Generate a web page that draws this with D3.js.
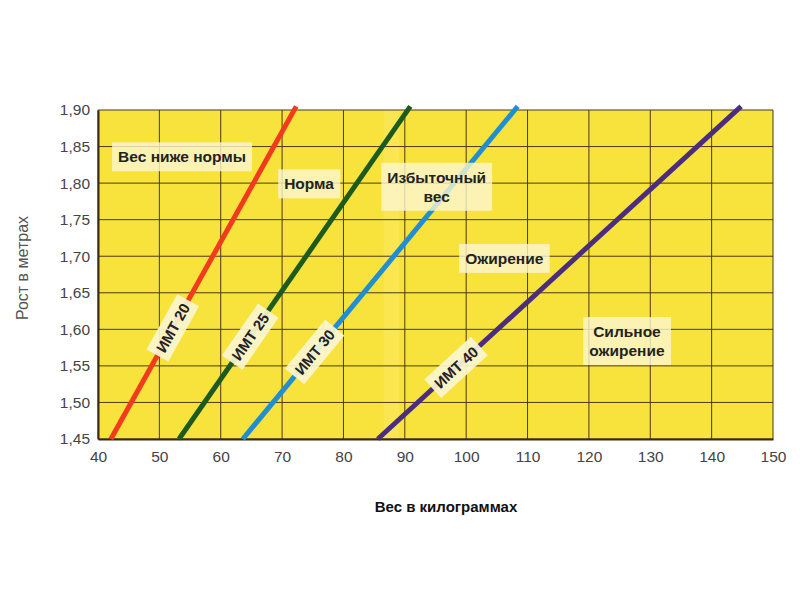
<!DOCTYPE html>
<html><head><meta charset="utf-8">
<script src="https://cdn.jsdelivr.net/npm/d3@7"></script>
<style>body{margin:0;background:#fff}svg{display:block}</style>
</head><body>
<svg id="c" width="800" height="615"></svg>
<script>
const xTicks = [40,50,60,70,80,90,100,110,120,130,140,150];
const yTicks = [1.45,1.50,1.55,1.60,1.65,1.70,1.75,1.80,1.85,1.90];
const lineHeights = [1.45, 1.905];
const bmiNames = ["ИМТ 20","ИМТ 25","ИМТ 30","ИМТ 40"];
const bmi20 = [42.1, 72.3];
const bmi25 = [53.2, 90.9];
const bmi30 = [63.6, 108.4];
const bmi40 = [85.6, 144.8];
const bmiColors = ["#f23a1e","#1d5a1d","#1f8fd2","#4b2d80"];
const bmiLabelHeights = [1.602, 1.59, 1.569, 1.548];
const zoneNames = [["Вес ниже нормы"],["Норма"],["Избыточный","вес"],["Ожирение"],["Сильное","ожирение"]];
const zoneX = [53.7, 74.4, 95.2, 106.2, 126.2];
const zoneY = [1.836, 1.799, 1.795, 1.697, 1.584];

const svg = d3.select("#c");
const x = d3.scaleLinear().domain([40,150]).range([98,773]);
const y = d3.scaleLinear().domain([1.45,1.90]).range([439,110]);
const font = "Liberation Sans, Arial, sans-serif";

// plot background
svg.append("rect").attr("x",x(40)).attr("y",y(1.90))
  .attr("width",x(150)-x(40)).attr("height",y(1.45)-y(1.90)).attr("fill","#f8e23c");
svg.append("rect").attr("x",x(86.5)).attr("y",y(1.90)).attr("width",16).attr("height",y(1.45)-y(1.90))
  .attr("fill","#fbe965").attr("opacity",0.5);

// grid
svg.append("g").selectAll("line").data(xTicks).join("line")
  .attr("x1",d=>x(d)).attr("x2",d=>x(d)).attr("y1",y(1.90)).attr("y2",y(1.45))
  .attr("stroke","#4a3a18").attr("stroke-width",1);
svg.append("g").selectAll("line").data(yTicks).join("line")
  .attr("x1",x(40)).attr("x2",x(150)).attr("y1",d=>y(d)).attr("y2",d=>y(d))
  .attr("stroke","#4a3a18").attr("stroke-width",1);

// axes
const xAxis = svg.append("g").attr("transform",`translate(0,${y(1.45)})`)
  .call(d3.axisBottom(x).tickValues(xTicks).tickSize(0).tickPadding(12).tickFormat(d3.format("d")));
xAxis.select(".domain").attr("stroke","#3a2a10").attr("stroke-width",2);
xAxis.selectAll("text").attr("font-family",font).attr("font-size",15.5).attr("fill","#444");
const yAxis = svg.append("g").attr("transform",`translate(${x(40)},0)`)
  .call(d3.axisLeft(y).tickValues(yTicks).tickSize(0).tickPadding(8).tickFormat(d=>d3.format(".2f")(d).replace(".",",")));
yAxis.select(".domain").attr("stroke","#3a2a10").attr("stroke-width",2);
yAxis.selectAll("text").attr("font-family",font).attr("font-size",15.5).attr("fill","#444");

// BMI lines
const series = [bmi20,bmi25,bmi30,bmi40];
const line = d3.line().x(d=>x(d[0])).y(d=>y(d[1]));
series.forEach((w,i)=>{
  svg.append("path").attr("d",line(w.map((v,k)=>[v,lineHeights[k]])))
    .attr("stroke",bmiColors[i]).attr("stroke-width",5).attr("fill","none");
});

// zone labels (semi-transparent boxes over lines)
zoneNames.forEach((lines,i)=>{
  const g = svg.append("g");
  const t = g.append("text").attr("font-family",font).attr("font-size",15.5).attr("font-weight","bold")
    .attr("fill","#222").attr("text-anchor","middle");
  lines.forEach((s,j)=>t.append("tspan").attr("x",x(zoneX[i]))
    .attr("y",y(zoneY[i]) + (j - (lines.length-1)/2)*19 + 5.5).text(s));
  const bb = t.node().getBBox();
  g.insert("rect","text").attr("x",bb.x-6).attr("y",bb.y-6).attr("width",bb.width+12).attr("height",bb.height+12)
    .attr("fill","#fbf6d2").attr("opacity",0.8);
});

// BMI labels
series.forEach((w,i)=>{
  const h = bmiLabelHeights[i];
  const t0 = (h-lineHeights[0])/(lineHeights[1]-lineHeights[0]);
  const wv = w[0] + t0*(w[1]-w[0]);
  const px = x(wv), py = y(h);
  const ang = Math.atan2(y(lineHeights[1])-y(lineHeights[0]), x(w[1])-x(w[0]))*180/Math.PI;
  const g = svg.append("g").attr("transform",`translate(${px},${py}) rotate(${ang})`);
  const t = g.append("text").attr("font-family",font).attr("font-size",15).attr("font-weight","bold")
    .attr("fill","#222").attr("text-anchor","middle").attr("y",5.5).text(bmiNames[i]);
  const bb = t.node().getBBox();
  g.insert("rect","text").attr("x",bb.x-5).attr("y",bb.y-4).attr("width",bb.width+10).attr("height",bb.height+8)
    .attr("fill","#fbf6d2").attr("opacity",0.92);
});

// axis titles
svg.append("text").attr("transform",`translate(28,${268}) rotate(-90)`).attr("text-anchor","middle")
  .attr("font-family",font).attr("font-size",16).attr("fill","#555").text("Рост в метрах");
svg.append("text").attr("x",446).attr("y",512).attr("text-anchor","middle")
  .attr("font-family",font).attr("font-size",15).attr("font-weight","bold").attr("fill","#111").text("Вес в килограммах");
</script>
</body></html>
